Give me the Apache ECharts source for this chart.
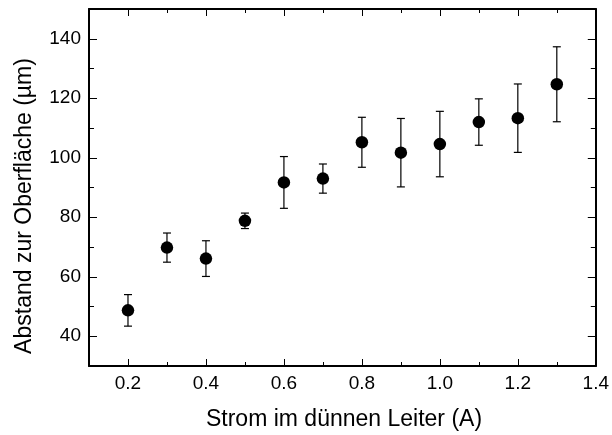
<!DOCTYPE html>
<html>
<head>
<meta charset="utf-8">
<script src="https://cdn.jsdelivr.net/npm/echarts@6/dist/echarts.min.js"></script>
<style>
html,body{margin:0;padding:0;background:#fff;}
#chart{width:612px;height:435px;}
</style>
</head>
<body>
<div id="chart"></div>
<script>
const xValues = [0.2, 0.3, 0.4, 0.5, 0.6, 0.7, 0.8, 0.9, 1.0, 1.1, 1.2, 1.3];
const yValues = [48.7, 69.8, 66.1, 78.8, 91.7, 93.0, 105.2, 101.7, 104.6, 112.0, 113.3, 124.7];
const yErrors = [5.3, 4.9, 6.0, 2.6, 8.7, 4.9, 8.4, 11.5, 11.0, 7.8, 11.5, 12.6];
const xMajorTicks = [0.2, 0.4, 0.6, 0.8, 1.0, 1.2, 1.4];
const xMinorTicks = [0.3, 0.5, 0.7, 0.9, 1.1, 1.3];
const yMajorTicks = [40, 60, 80, 100, 120, 140];
const yMinorTicks = [50, 70, 90, 110, 130];
const xTitle = 'Strom im dünnen Leiter (A)';
const yTitle = 'Abstand zur Oberfläche (µm)';

const FONT = 'Liberation Sans, Arial, sans-serif';
const X_MIN = 0.1, X_MAX = 1.4, Y_MIN = 30, Y_MAX = 150;

function xAx(pos, ticks, len, withLabels, withLine) {
  return {
    type: 'value', position: pos, min: X_MIN, max: X_MAX,
    axisLine: { show: withLine, onZero: false, lineStyle: { color: '#000', width: 2 } },
    axisTick: { show: true, inside: true, length: len, customValues: ticks, lineStyle: { color: '#000', width: 1 } },
    axisLabel: withLabels ? { show: true, customValues: ticks, formatter: v => v.toFixed(1), color: '#000', fontFamily: FONT, fontSize: 19, margin: 8 } : { show: false },
    splitLine: { show: false }
  };
}
function yAx(pos, ticks, len, withLabels, withLine) {
  return {
    type: 'value', position: pos, min: Y_MIN, max: Y_MAX,
    axisLine: { show: withLine, onZero: false, lineStyle: { color: '#000', width: 2 } },
    axisTick: { show: true, inside: true, length: len, customValues: ticks, lineStyle: { color: '#000', width: 1 } },
    axisLabel: withLabels ? { show: true, customValues: ticks, formatter: v => String(v), color: '#000', fontFamily: FONT, fontSize: 19, margin: 8 } : { show: false },
    splitLine: { show: false }
  };
}

const chart = echarts.init(document.getElementById('chart'), null, { renderer: 'canvas' });
const points = xValues.map((x, i) => [x, yValues[i]]);
const errData = xValues.map((x, i) => [x, yValues[i] - yErrors[i], yValues[i] + yErrors[i]]);

chart.setOption({
  animation: false,
  backgroundColor: '#fff',
  grid: { left: 89, right: 13, top: 9, bottom: 69, containLabel: false },
  xAxis: [
    xAx('bottom', xMajorTicks, 7, true, true),
    xAx('bottom', xMinorTicks, 4, false, false),
    xAx('top', xMajorTicks, 7, false, true),
    xAx('top', xMinorTicks, 4, false, false)
  ],
  yAxis: [
    yAx('left', yMajorTicks, 8, true, true),
    yAx('left', yMinorTicks, 5, false, false),
    yAx('right', yMajorTicks, 8, false, true),
    yAx('right', yMinorTicks, 5, false, false)
  ],
  series: [
    {
      type: 'custom',
      xAxisIndex: 0, yAxisIndex: 0,
      data: errData,
      z: 2,
      renderItem: function (params, api) {
        const x = api.value(0);
        const lo = api.coord([x, api.value(1)]);
        const hi = api.coord([x, api.value(2)]);
        const hw = 4;
        const style = { stroke: '#000', lineWidth: 1.2 };
        return {
          type: 'group',
          children: [
            { type: 'line', shape: { x1: lo[0], y1: lo[1], x2: hi[0], y2: hi[1] }, style: style },
            { type: 'line', shape: { x1: lo[0] - hw, y1: lo[1], x2: lo[0] + hw, y2: lo[1] }, style: style },
            { type: 'line', shape: { x1: hi[0] - hw, y1: hi[1], x2: hi[0] + hw, y2: hi[1] }, style: style }
          ]
        };
      }
    },
    {
      type: 'scatter',
      xAxisIndex: 0, yAxisIndex: 0,
      data: points,
      symbol: 'circle',
      symbolSize: 12.5,
      z: 3,
      itemStyle: { color: '#000', opacity: 1 }
    }
  ],
  graphic: [
    {
      type: 'text', x: 344, y: 420,
      style: { text: xTitle, fontFamily: FONT, fontSize: 23, fill: '#000', textAlign: 'center', textVerticalAlign: 'middle', align: 'center', verticalAlign: 'middle' }
    },
    {
      type: 'text', x: 25, y: 206, rotation: Math.PI / 2,
      style: { text: yTitle, fontFamily: FONT, fontSize: 23, fill: '#000', textAlign: 'center', textVerticalAlign: 'middle', align: 'center', verticalAlign: 'middle' }
    }
  ]
});
</script>
</body>
</html>
